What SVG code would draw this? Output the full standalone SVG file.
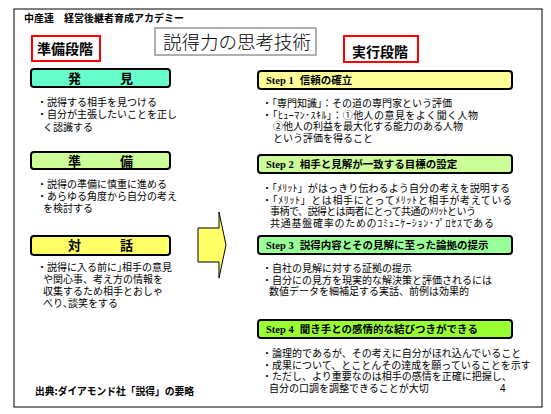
<svg xmlns="http://www.w3.org/2000/svg" width="551" height="414" viewBox="0 0 551 414">
<style>
text{font-family:"Noto Sans CJK JP","Noto Sans CJK SC",sans-serif;fill:#000}
.hdr{font-size:10px;font-weight:bold}
.red{fill:#fff;stroke:#ff0000;stroke-width:2}
.phase{font-size:14px;font-weight:bold}
.box{stroke:#000;stroke-width:2}
.lbl{font-size:13px;font-weight:bold}
.b{font-size:10px}
.st{font-size:10.5px;font-weight:bold}
.sp{font-family:"Liberation Serif",serif;font-weight:bold}
</style>
<rect x="14" y="9" width="528" height="398" fill="#fff" stroke="#000" stroke-width="1"/>
<text class="hdr" x="24" y="22">中産連　経営後継者育成アカデミー</text>

<g id="title">
<rect x="155" y="28" width="161" height="27" fill="#fff" stroke="#b0b0b0" stroke-width="2"/>
<text x="163" y="49" style="font-size:18.5px;font-weight:300">説得力の思考技術</text>
</g>
<g id="prep-phase">
<rect class="red" x="32" y="36" width="68" height="25"/>
<text class="phase" x="37" y="54">準備段階</text>
</g>
<g id="exec-phase">
<rect class="red" x="344" y="36" width="74" height="26"/>
<text class="phase" x="352" y="57">実行段階</text>
</g>

<g id="discover">
<rect class="box" x="31" y="69" width="139" height="18" rx="3" fill="#66ffcc"/>
<text class="lbl" x="100.5" y="83" text-anchor="middle">発　　　見</text>
<text class="b"><tspan x="37" y="106">・説得する相手を見つける</tspan><tspan x="37" y="118">・自分が主張したいことを正し</tspan><tspan x="43" y="131">く認識する</tspan></text>
</g>
<g id="prepare">
<rect class="box" x="31" y="152" width="139" height="17" rx="3" fill="#ccff99"/>
<text class="lbl" x="100.5" y="165.5" text-anchor="middle">準　　　備</text>
<text class="b"><tspan x="37" y="188">・説得の準備に慎重に進める</tspan><tspan x="37" y="200">・あらゆる角度から自分の考え</tspan><tspan x="43" y="212">を検討する</tspan></text>
</g>
<g id="dialogue">
<rect class="box" x="31" y="236" width="139" height="19" rx="3" fill="#ffff66"/>
<text class="lbl" x="100.5" y="250" text-anchor="middle">対　　　話</text>
<text class="b" x="37" y="271" textLength="135" lengthAdjust="spacing">・説得に入る前に｣相手の意見</text>
<text class="b"><tspan x="43" y="283">や関心事、考え方の情報を</tspan><tspan x="43" y="295">収集するため相手とおしゃ</tspan><tspan x="43" y="307">べり､談笑をする</tspan></text>
</g>

<g id="connectors">
<polygon points="198,228 219,228 219,212 226,245 219,278 219,262 198,262" fill="#ffff66" stroke="#000" stroke-width="1"/>
</g>

<g id="step1">
<rect class="box" x="258" y="71" width="254" height="18" rx="3" fill="#ffff99"/>
<text class="st" x="266" y="84"><tspan class="sp">Step 1</tspan><tspan dx="6">信頼の確立</tspan></text>
<text class="b" x="262" y="107">・「専門知識」：その道の専門家という評価</text>
<text class="b" x="262" y="118.5" textLength="216" lengthAdjust="spacing">・「ﾋｭｰﾏﾝ･ｽｷﾙ」：①他人の意見をよく聞く人物</text>
<text class="b"><tspan x="273" y="130">②他人の利益を最大化する能力のある人物</tspan><tspan x="273" y="141.5">という評価を得ること</tspan></text>
</g>
<g id="step2">
<rect class="box" x="258" y="155" width="254" height="18" rx="3" fill="#ccff99"/>
<text class="st" x="266" y="168"><tspan class="sp">Step 2</tspan><tspan dx="6">相手と見解が一致する目標の設定</tspan></text>
<text class="b" x="262" y="192" textLength="248" lengthAdjust="spacing">・「ﾒﾘｯﾄ」がはっきり伝わるよう自分の考えを説明する</text>
<text class="b" x="262" y="203.5" textLength="250" lengthAdjust="spacing">・「ﾒﾘｯﾄ」とは相手にとってﾒﾘｯﾄと相手が考えている</text>
<text class="b" x="270" y="215" textLength="206" lengthAdjust="spacing">事柄で、説得とは両者にとって共通のﾒﾘｯﾄという</text>
<text class="b" x="270" y="226.5" textLength="224" lengthAdjust="spacing">共通基盤確率のためのｺﾐｭﾆｹｰｼｮﾝ･ﾌﾟﾛｾｽである</text>
</g>
<g id="step3">
<rect class="box" x="258" y="236" width="254" height="18" rx="3" fill="#99ff99"/>
<text class="st" x="266" y="249"><tspan class="sp">Step 3</tspan><tspan dx="6">説得内容とその見解に至った論拠の提示</tspan></text>
<text class="b"><tspan x="262" y="272">・自社の見解に対する証拠の提示</tspan><tspan x="262" y="283.5">・自分にの見方を現実的な解決策と評価されるには</tspan><tspan x="269" y="295">数値データを細補足する実話、前例は効果的</tspan></text>
</g>
<g id="step4">
<rect class="box" x="258" y="320" width="254" height="18" rx="3" fill="#99ff33"/>
<text class="st" x="266" y="333"><tspan class="sp">Step 4</tspan><tspan dx="6">聞き手との感情的な結びつきができる</tspan></text>
<text class="b"><tspan x="262" y="357">・論理的であるが、その考えに自分がほれ込んでいること</tspan><tspan x="262" y="368.5">・成果について、とことんその達成を願っていることを示す</tspan><tspan x="262" y="380">・ただし、より重要なのは相手の感情を正確に把握し、</tspan><tspan x="269" y="391.5">自分の口調を調整できることが大切</tspan></text>
<text x="500" y="391.5" style="font-family:'Liberation Sans',sans-serif;font-size:10px">4</text>
</g>
<text class="hdr" x="35" y="395" style="font-size:10.5px" textLength="159" lengthAdjust="spacingAndGlyphs">出典:ダイアモンド社「説得」の要略</text>
</svg>
